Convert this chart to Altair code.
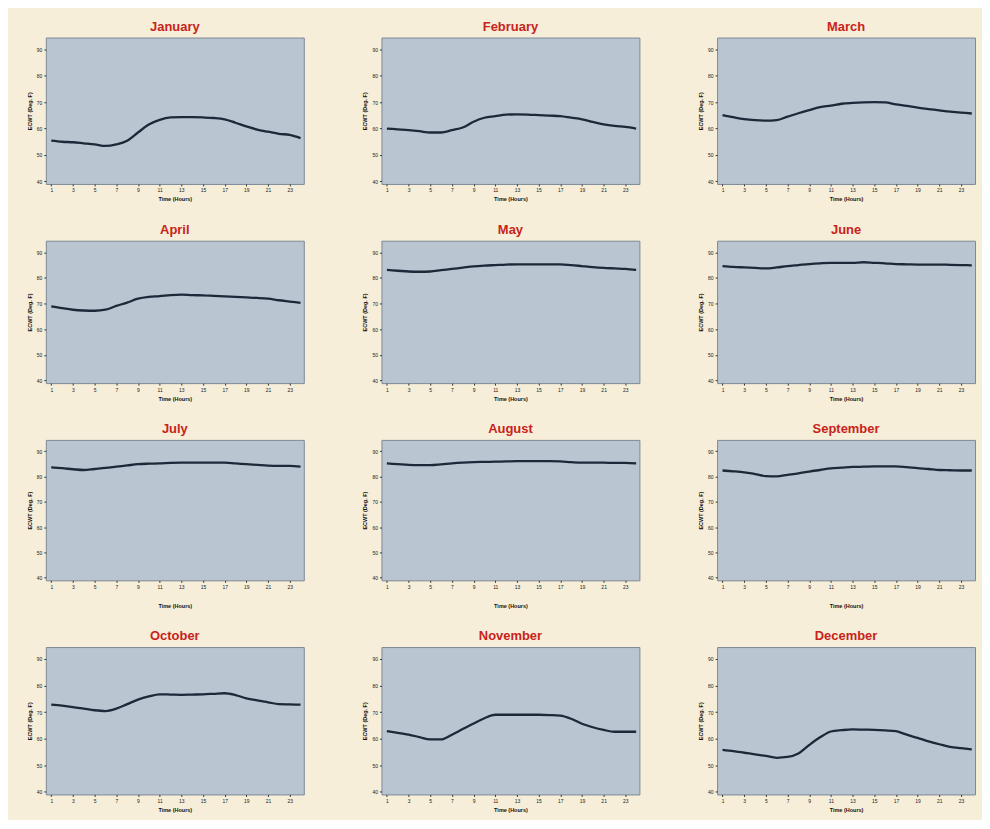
import altair as alt
import pandas as pd

months = ["January", "February", "March", "April", "May", "June",
          "July", "August", "September", "October", "November", "December"]
hours = list(range(1, 25))

jan = [55.4, 55.0, 54.8, 54.4, 54.0, 53.4, 54.0, 55.4, 58.5, 61.5, 63.3, 64.2, 64.3, 64.3, 64.2, 64.0, 63.5, 62.2, 60.8, 59.6, 58.8, 58.0, 57.6, 56.4]
feb = [60.0, 59.7, 59.4, 59.0, 58.5, 58.5, 59.4, 60.4, 62.6, 64.1, 64.7, 65.3, 65.4, 65.3, 65.1, 64.9, 64.7, 64.1, 63.5, 62.5, 61.6, 61.0, 60.6, 60.0]
mar = [65.1, 64.3, 63.6, 63.2, 63.0, 63.2, 64.5, 65.8, 67.0, 68.1, 68.7, 69.4, 69.7, 69.9, 70.0, 69.9, 69.2, 68.6, 67.9, 67.4, 66.9, 66.4, 66.0, 65.7]
apr = [68.9, 68.2, 67.6, 67.3, 67.2, 67.6, 69.1, 70.4, 71.9, 72.6, 72.9, 73.3, 73.5, 73.3, 73.2, 73.0, 72.8, 72.6, 72.4, 72.2, 71.9, 71.3, 70.8, 70.3]
may = [83.1, 82.8, 82.5, 82.4, 82.5, 83.0, 83.5, 84.0, 84.5, 84.8, 85.0, 85.2, 85.3, 85.3, 85.3, 85.3, 85.3, 85.0, 84.6, 84.2, 83.9, 83.7, 83.5, 83.1]
jun = [84.6, 84.3, 84.1, 83.9, 83.7, 84.1, 84.6, 85.0, 85.4, 85.7, 85.9, 85.9, 85.9, 86.1, 85.9, 85.7, 85.4, 85.3, 85.2, 85.2, 85.2, 85.1, 85.0, 84.9]
jul = [83.6, 83.3, 82.9, 82.6, 83.0, 83.4, 83.9, 84.4, 84.9, 85.1, 85.2, 85.4, 85.5, 85.5, 85.5, 85.5, 85.5, 85.2, 84.9, 84.6, 84.3, 84.2, 84.2, 83.9]
aug = [85.2, 84.9, 84.6, 84.5, 84.5, 84.8, 85.2, 85.5, 85.7, 85.8, 85.9, 86.0, 86.1, 86.1, 86.1, 86.1, 86.0, 85.7, 85.5, 85.5, 85.5, 85.4, 85.4, 85.2]
sep = [82.4, 82.1, 81.7, 81.0, 80.2, 80.1, 80.7, 81.3, 82.0, 82.6, 83.2, 83.5, 83.8, 83.9, 84.0, 84.0, 84.0, 83.7, 83.3, 83.0, 82.6, 82.5, 82.4, 82.4]
oct_ = [72.8, 72.4, 71.9, 71.3, 70.7, 70.4, 71.3, 73.0, 74.7, 75.9, 76.7, 76.6, 76.5, 76.6, 76.7, 76.9, 77.1, 76.4, 75.2, 74.4, 73.7, 73.0, 72.9, 72.8]
nov = [62.8, 62.2, 61.5, 60.6, 59.7, 59.7, 61.5, 63.6, 65.7, 67.7, 69.0, 69.0, 69.0, 69.0, 69.0, 68.9, 68.7, 67.5, 65.6, 64.3, 63.3, 62.6, 62.6, 62.6]
dec = [55.8, 55.3, 54.7, 54.1, 53.5, 52.8, 53.1, 54.4, 57.6, 60.5, 62.7, 63.2, 63.5, 63.4, 63.3, 63.1, 62.8, 61.5, 60.3, 59.0, 57.9, 56.9, 56.4, 56.0]

series = [jan, feb, mar, apr, may, jun, jul, aug, sep, oct_, nov, dec]
x_ticks = [1, 3, 5, 7, 9, 11, 13, 15, 17, 19, 21, 23]
y_ticks = [40, 50, 60, 70, 80, 90]

rows = []
for m, vals in zip(months, series):
    for h, v in zip(hours, vals):
        rows.append({"month": m, "hour": h, "temp": v})
df = pd.DataFrame(rows)

base = alt.Chart(df)

row_heights = [147, 143, 141, 148]
row_xtitle_pad = [4, 4, 14, 4]

panels = []
for i, m in enumerate(months):
    r = i // 3
    c = base.transform_filter(alt.datum.month == m).mark_line(
        color="#1e2838", strokeWidth=2.3, interpolate="monotone"
    ).encode(
        x=alt.X("hour:Q", scale=alt.Scale(domain=[0.5, 24.3], nice=False, zero=False),
                axis=alt.Axis(values=x_ticks, title="Time (Hours)",
                              titlePadding=row_xtitle_pad[r])),
        y=alt.Y("temp:Q", scale=alt.Scale(domain=[39, 94.5], nice=False, zero=False),
                axis=alt.Axis(values=y_ticks, title="ECWT (Deg. F)")),
    ).properties(width=259, height=row_heights[r], title=alt.TitleParams(m))
    panels.append(c)

chart = alt.concat(*panels, columns=3, spacing={"row": 20, "column": 56}).properties(
    background="#f6eed8",
    padding={"left": 18, "top": 10, "right": 5, "bottom": 5},
).configure_view(
    fill="#b9c5d1", stroke="#7d8898", strokeWidth=1
).configure_axis(
    labelFontSize=5, titleFontSize=5.5, titleFontWeight="bold",
    labelColor="#222222", titleColor="#111111", tickColor="#333333",
    tickSize=2, domain=False, grid=False, labelPadding=2, titlePadding=4,
    labelFont="Liberation Sans", titleFont="Liberation Sans",
).configure_title(
    fontSize=13, color="#c8231b", font="Liberation Sans", fontWeight="bold",
    offset=4, anchor="middle",
)

chart.save("out.html", embed_options={"renderer": "svg", "actions": False})
